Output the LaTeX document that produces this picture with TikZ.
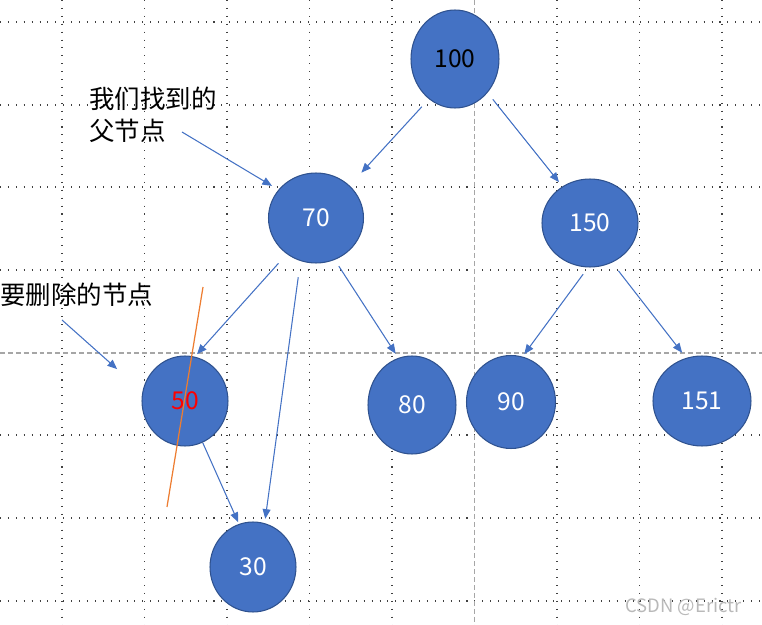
\documentclass[tikz,border=0pt]{standalone}
\usepackage{fontspec}
\setmainfont{Noto Sans CJK SC}
\usetikzlibrary{arrows.meta,shapes.geometric}
\definecolor{nodeblue}{HTML}{4472C4}
\definecolor{nodeedge}{HTML}{2F528F}
\definecolor{cutorange}{HTML}{ED7D31}

\begin{document}
\begin{tikzpicture}[x=0.02cm,y=-0.02cm,
  gridline/.style={black!75,line width=0.6pt,dash pattern=on 0.6pt off 3.9pt},
  guideline/.style={gray!70,line width=0.6pt,dash pattern=on 2.8pt off 1.7pt},
  keynode/.style={ellipse,draw=nodeedge,fill=nodeblue,line width=0.6pt,inner sep=0pt,outer sep=0pt,
    text=white,font=\fontsize{14}{16}\selectfont},
  link/.style={nodeblue,line width=0.6pt,-{Triangle[length=5.5pt,width=4.5pt]}},
  note/.style={inner sep=0pt,align=left,font=\fontsize{14.5}{18}\selectfont}]
  \useasboundingbox (0,0) rectangle (762,625);
  % Grid
  \foreach \gx in {62,144.5,227,309.5,392,557,639.5,722}
    \draw[gridline] (\gx,0) -- (\gx,625);
  \foreach \gy in {22,105,187,270,435,518,601}
    \draw[gridline] (0,\gy) -- (762,\gy);
  \draw[guideline] (474.5,0) -- (474.5,625);
  \draw[guideline] (0,353) -- (762,353);
  % Tree
  \node[keynode,minimum width=1.76cm,minimum height=1.96cm,text=black] (n100) at (455,59) {100};
  \node[keynode,minimum width=1.90cm,minimum height=1.80cm] (n70) at (316,218) {70};
  \node[keynode,minimum width=1.92cm,minimum height=1.76cm] (n150) at (590,223) {150};
  \node[keynode,minimum width=1.72cm,minimum height=1.80cm,text=red] (n50) at (185,401) {50};
  \node[keynode,minimum width=1.76cm,minimum height=1.96cm] (n80) at (412,405) {80};
  \node[keynode,minimum width=1.78cm,minimum height=1.86cm] (n90) at (511,402) {90};
  \node[keynode,minimum width=1.96cm,minimum height=1.80cm] (n151) at (702,401) {151};
  \node[keynode,minimum width=1.72cm,minimum height=1.80cm] (n30) at (253,567) {30};
  \draw[link,shorten <=6.2pt,shorten >=10.2pt] (n100.-123) -- (n70.44);
  \draw[link,shorten <=5.1pt,shorten >=3.4pt] (n100.-46.5) -- (n150.127);
  \draw[link,shorten <=7.4pt,shorten >=2.3pt] (n70.-129) -- (n50.78);
  \draw[link,shorten <=9.6pt,shorten >=2.8pt] (n70.-110) -- (n30.75);
  \draw[link,shorten <=4.5pt,shorten >=3.1pt] (n70.-66) -- (n80.106);
  \draw[link,shorten <=5.1pt,shorten >=2pt] (n150.-92) -- (n90.76);
  \draw[link,shorten <=6.2pt,shorten >=4pt] (n150.-61) -- (n151.110);
  \draw[link,shorten <=0.6pt,shorten >=1.4pt] (n50.-67) -- (n30.108);
  % Notes
  \node[note,anchor=west] (parentnote) at (89,115) {我们找到的\\父节点};
  \node[note,anchor=west] (delnote) at (0,295) {要删除的节点};
  \coordinate (parentfrom) at (182,132);
  \coordinate (delfrom) at (62,320);
  \draw[link,shorten >=4.5pt] (parentfrom) -- (n70.143);
  \draw[link,shorten >=19.6pt] (delfrom) -- (n50.168);
  % Cut through the deleted node
  \draw[cutorange,line width=0.7pt] (203,287) -- (167,507);
  \node[text=gray!55,font=\fontsize{10.5}{12}\selectfont,anchor=east] (mark) at (748,607) {CSDN @Erictr};
\end{tikzpicture}
\end{document}
